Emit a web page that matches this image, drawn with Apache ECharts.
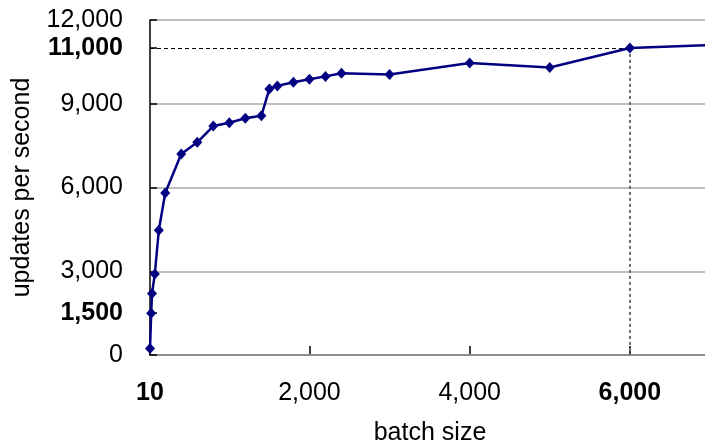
<!DOCTYPE html>
<html>
<head>
<meta charset="utf-8">
<script src="https://cdn.jsdelivr.net/npm/echarts@6/dist/echarts.min.js"></script>
<style>
  html, body { margin: 0; padding: 0; background: #fff; }
  #chart { width: 705px; height: 445px; }
</style>
</head>
<body>
<div id="chart"></div>
<script>
// Throughput measured for each batch size
const batchSizes = [10, 25, 35, 70, 120, 200, 400, 600, 800, 1000, 1200, 1400, 1500, 1600, 1800, 2000, 2200, 2400, 3000, 4000, 5000, 6000, 7000];
const updatesPerSecond = [230, 1500, 2200, 2900, 4470, 5800, 7200, 7620, 8200, 8320, 8480, 8570, 9530, 9640, 9770, 9880, 9980, 10090, 10050, 10460, 10300, 11000, 11100];

// Axis labels; the highlighted ones are drawn in bold
const xTickValues = [10, 2000, 4000, 6000];
const yTickValues = [0, 1500, 3000, 6000, 9000, 11000, 12000];
const xBold = [10, 6000];
const yBold = [1500, 11000];

// Reference point picked out with guide lines
const markX = 6000;
const markY = 11000;

const FONT = '"Liberation Sans", Arial, sans-serif';
const FS = 25;
const fmt = v => Number(v).toLocaleString('en-US');

const chart = echarts.init(document.getElementById('chart'), null, { renderer: 'canvas' });

chart.setOption({
  animation: false,
  backgroundColor: '#ffffff',
  textStyle: { fontFamily: FONT },
  grid: { left: 150, top: 20, right: -5, bottom: 90, containLabel: false, outerBoundsMode: 'none' },
  xAxis: {
    type: 'value',
    min: 10,
    max: 7000,
    name: 'batch size',
    nameLocation: 'middle',
    nameGap: 66,
    nameTextStyle: { fontFamily: FONT, fontSize: FS, color: '#000' },
    axisLine: { show: true, onZero: false, lineStyle: { color: '#000', width: 1.5 } },
    axisTick: { show: true, inside: true, length: 9, customValues: xTickValues, lineStyle: { color: '#000', width: 1.5 } },
    axisLabel: {
      customValues: xTickValues,
      margin: 26,
      fontFamily: FONT,
      fontSize: FS,
      color: '#000',
      formatter: v => xBold.includes(v) ? '{b|' + fmt(v) + '}' : fmt(v),
      rich: { b: { fontFamily: FONT, fontSize: FS, fontWeight: 'bold', color: '#000' } }
    },
    splitLine: { show: false }
  },
  yAxis: [{
    type: 'value',
    min: 0,
    max: 12000,
    name: 'updates per second',
    nameLocation: 'middle',
    nameGap: 115,
    nameTextStyle: { fontFamily: FONT, fontSize: FS, color: '#000' },
    axisLine: { show: true, onZero: false, lineStyle: { color: '#000', width: 1.5 } },
    axisTick: { show: true, inside: true, length: 7, customValues: yTickValues, lineStyle: { color: '#000', width: 1.5 } },
    axisLabel: {
      customValues: yTickValues,
      margin: 27,
      fontFamily: FONT,
      fontSize: FS,
      color: '#000',
      formatter: v => yBold.includes(v) ? '{b|' + fmt(v) + '}' : fmt(v),
      rich: { b: { fontFamily: FONT, fontSize: FS, fontWeight: 'bold', color: '#000' } }
    },
    splitLine: { show: false },
    z: 4
  }, {
    // Horizontal grid every 3,000 (no labels of its own)
    type: 'value',
    position: 'left',
    min: 0,
    max: 12000,
    interval: 3000,
    axisLine: { show: false },
    axisTick: { show: false },
    axisLabel: { show: false },
    splitLine: { show: true, lineStyle: { color: '#a8a8a8', width: 1.5 } },
    z: 1
  }],
  series: [{
    type: 'line',
    yAxisIndex: 0,
    data: batchSizes.map((x, i) => [x, updatesPerSecond[i]]),
    symbol: 'diamond',
    symbolSize: [10, 11],
    showSymbol: true,
    itemStyle: { color: '#000080' },
    lineStyle: { color: '#000080', width: 2.5 },
    z: 5,
    markLine: {
      silent: true,
      symbol: 'none',
      animation: false,
      label: { show: false },
      z: 3,
      data: [
        [
          { coord: [10, markY], lineStyle: { color: '#000', type: [4, 3], width: 1 } },
          { coord: [markX, markY] }
        ],
        [
          { coord: [markX, markY], lineStyle: { color: '#6e6e6e', type: [3, 3], width: 2 } },
          { coord: [markX, 0] }
        ]
      ]
    }
  }]
});
</script>
</body>
</html>
